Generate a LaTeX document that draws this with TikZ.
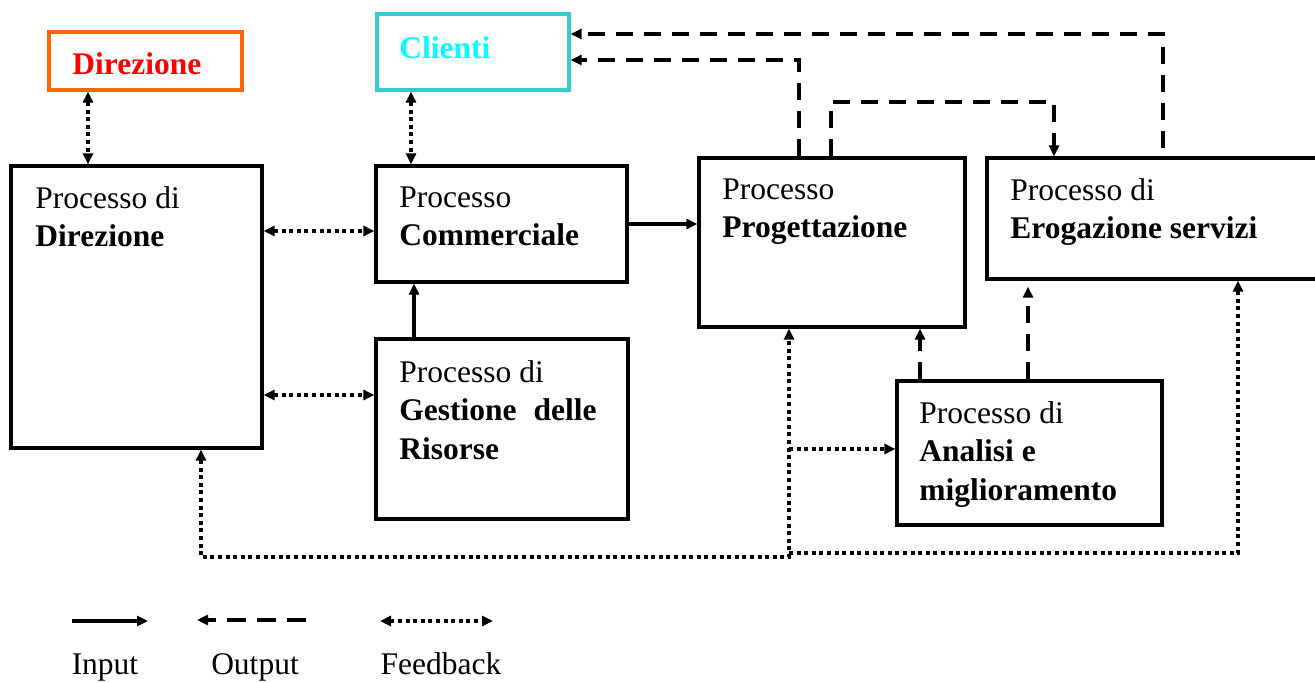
\documentclass[tikz,border=0pt]{standalone}
\usepackage{fontspec}
\setmainfont{Liberation Serif}
\usetikzlibrary{arrows.meta}
\usetikzlibrary{fit}

\definecolor{dirorange}{HTML}{FF6600}
\definecolor{clicyan}{HTML}{33CCCC}
\definecolor{clitext}{HTML}{00FFFF}

\tikzset{
  procbox/.style={draw, line width=1.6pt, inner sep=0pt},
  proctext/.style={anchor=north west, inner sep=0pt, align=left,
    font=\fontsize{15.75}{19.25}\selectfont},
  inline/.style={line width=1.6pt},
  outline/.style={line width=1.6pt, dash pattern=on 8.5pt off 5.5pt},
  fbline/.style={line width=1.75pt, dash pattern=on 2pt off 1.8pt}
}

\begin{document}
\begin{tikzpicture}[x=0.5pt, y=-0.5pt, >={Triangle[length=5.5pt,width=5pt]}]
                \useasboundingbox (0,0) rectangle (1315,683);
                % Direzione e Clienti
                \node[procbox, draw=dirorange, fit={(49,32) (242,90)}] (direz) {};
                \node[proctext, text=red, font=\fontsize{15.75}{19.25}\selectfont\bfseries] (direztxt) at (72,52) {Direzione};
                \node[procbox, draw=clicyan, fit={(377,14) (569,90)}] (clienti) {};
                \node[proctext, text=clitext, font=\fontsize{15.75}{19.25}\selectfont\bfseries] (clientitxt) at (399,36) {Clienti};

                % Processi
                \node[procbox, fit={(11,166) (262,448)}] (pdir) {};
                \node[proctext] (pdirtxt) at (35,186) {Processo di\\\textbf{Direzione}};
                \node[procbox, fit={(376,166) (627,282)}] (pcom) {};
                \node[proctext] (pcomtxt) at (399,186) {Processo\\\textbf{Commerciale}};
                \node[procbox, fit={(376,339) (628,519)}] (pges) {};
                \node[proctext] (pgestxt) at (399,360) {Processo di\\\textbf{Gestione\hspace{4.5pt} delle}\\\textbf{Risorse}};
                \node[procbox, fit={(699,158) (965,327)}] (pprog) {};
                \node[proctext] (pprogtxt) at (722,178) {Processo\\\textbf{Progettazione}};
                \node[procbox, fit={(987,158) (1330,279)}] (perog) {};
                \node[proctext] (perogtxt) at (1010,178) {Processo di\\\textbf{Erogazione servizi}};
                \node[procbox, fit={(897,381) (1162,525)}] (panal) {};
                \node[proctext] (panaltxt) at (919,401) {Processo di\\\textbf{Analisi e}\\\textbf{miglioramento}};

                % Punti di passaggio
                \coordinate (xdir) at (88,0);
                \coordinate (xcli) at (411,0);
                \coordinate (ycom) at (0,231);
                \coordinate (yges) at (0,395);
                \coordinate (xges) at (414,0);
                \coordinate (yin) at (0,224);
                \coordinate (outA) at (799,60);
                \coordinate (outB) at (1163,34);
                \coordinate (erogtop) at (1163,148);
                \coordinate (bendA) at (831,102);
                \coordinate (bendB) at (1054,102);
                \coordinate (xan1) at (920,0);
                \coordinate (xan2) at (1028,0);
                \coordinate (fbA) at (201,557);
                \coordinate (fbB) at (789,557);
                \coordinate (fbC) at (789,553);
                \coordinate (fbD) at (1238,553);
                \coordinate (fbE) at (789,449);

                % Input
                \draw[inline, ->] (pges.north -| xges) -- (pcom.south -| xges);
                \draw[inline, ->] (pcom.east |- yin) -- (pprog.west |- yin);

                % Output
                \draw[outline, ->] (pprog.north -| outA) -- (outA) -- (clienti.east |- outA);
                \draw[outline, ->] (erogtop) -- (outB) -- (clienti.east |- outB);
                \draw[outline, ->] (pprog.north -| bendA) -- (bendA) -- (bendB) -- (perog.north -| bendB);
                \draw[outline, ->] (panal.north -| xan1) -- (pprog.south -| xan1);
                \draw[outline, ->, shorten >=3pt] (panal.north -| xan2) -- (perog.south -| xan2);

                % Feedback
                \draw[fbline, <->] (direz.south -| xdir) -- (pdir.north -| xdir);
                \draw[fbline, <->] (clienti.south -| xcli) -- (pcom.north -| xcli);
                \draw[fbline, <->] (pdir.east |- ycom) -- (pcom.west |- ycom);
                \draw[fbline, <->] (pdir.east |- yges) -- (pges.west |- yges);
                \draw[fbline, <->] (pdir.south -| fbA) -- (fbA) -- (fbB) -- (pprog.south -| fbB);
                \draw[fbline, ->] (fbC) -- (fbD) -- (perog.south -| fbD);
                \draw[fbline, ->] (fbE) -- (panal.west |- fbE);

                % Legenda
                \coordinate (legInA) at (72,621);
                \coordinate (legInB) at (148,621);
                \coordinate (legOutA) at (306,620);
                \coordinate (legOutB) at (197,620);
                \coordinate (legFbA) at (380,621);
                \coordinate (legFbB) at (493,621);
                \draw[inline, ->] (legInA) -- (legInB);
                \draw[line width=1.6pt, dash pattern=on 9.5pt off 5.5pt, ->] (legOutA) -- (legOutB);
                \draw[fbline, <->] (legFbA) -- (legFbB);
                \node[font=\fontsize{15.75}{19.25}\selectfont, anchor=base] (legin) at (105,674) {Input};
                \node[font=\fontsize{15.75}{19.25}\selectfont, anchor=base] (legout) at (255,674) {Output};
                \node[font=\fontsize{15.75}{19.25}\selectfont, anchor=base] (legfb) at (441,674) {Feedback};
            \end{tikzpicture}
\end{document}
